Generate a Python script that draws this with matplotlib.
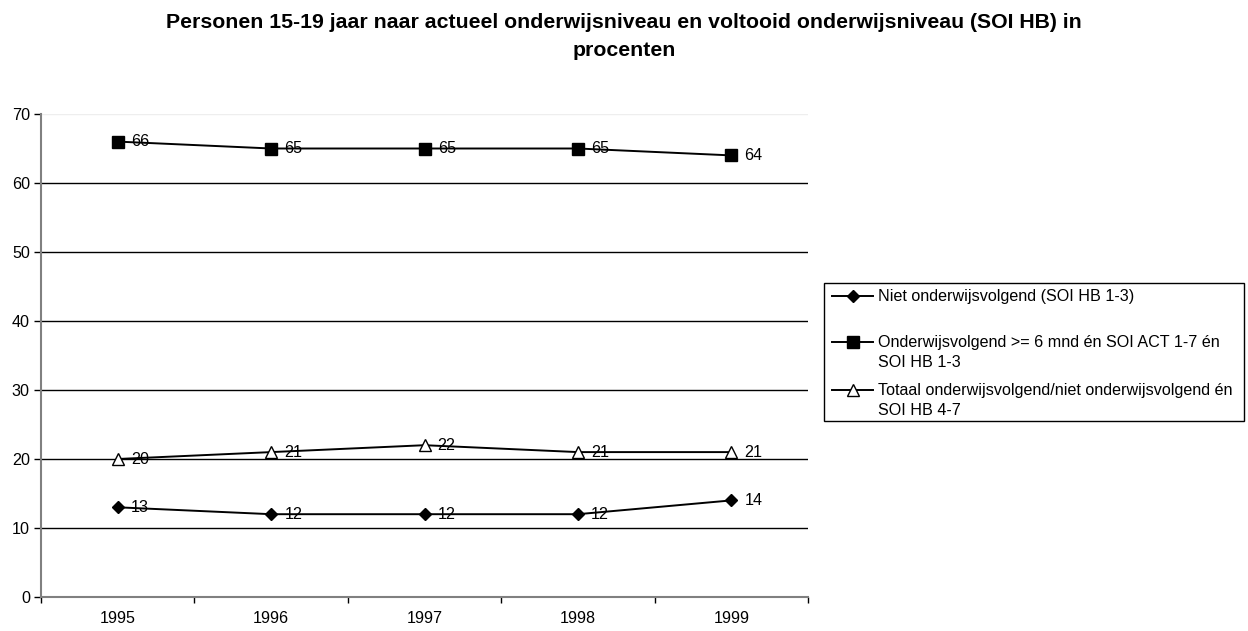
import matplotlib
matplotlib.use("Agg")
import matplotlib.pyplot as plt
from matplotlib.lines import Line2D
from matplotlib.patches import Rectangle

years = ["1995", "1996", "1997", "1998", "1999"]
niet = [13, 12, 12, 12, 14]
onderwijs = [66, 65, 65, 65, 64]
totaal = [20, 21, 22, 21, 21]
labels = [
    "Niet onderwijsvolgend (SOI HB 1-3)",
    "Onderwijsvolgend >= 6 mnd én SOI ACT 1-7 én\nSOI HB 1-3",
    "Totaal onderwijsvolgend/niet onderwijsvolgend én\nSOI HB 4-7",
]
title_lines = ["Personen 15-19 jaar naar actueel onderwijsniveau en voltooid onderwijsniveau (SOI HB) in",
               "procenten"]

plt.rcParams['font.family'] = ['Liberation Sans', 'DejaVu Sans']
FS = 11.6
W, H = 1248, 631

fig = plt.figure(figsize=(W / 100, H / 100), dpi=100)
ax = fig.add_axes([41 / W, 34 / H, 767 / W, 483 / H])

x = list(range(len(years)))
styles = [('D', 'black', 6.5), ('s', 'black', 8), ('^', 'white', 8)]
all_series = [niet, onderwijs, totaal]
for vals, (m, fc, ms) in zip(all_series, styles):
    ax.plot(x, vals, color='black', lw=1.4, marker=m, markersize=ms,
            markerfacecolor=fc, markeredgecolor='black', markeredgewidth=1.0,
            zorder=4)
    for xi, v in zip(x, vals):
        ax.annotate(str(v), (xi, v), xytext=(9.5, 0), textcoords='offset points',
                    va='center', ha='left', fontsize=FS, zorder=3)

ax.set_xlim(-0.5, len(years) - 0.5)
ax.set_ylim(0, 70)
ax.set_yticks(range(0, 71, 10))
ax.set_xticks(x)
ax.set_xticklabels(years)
ax.set_xticks([i + 0.5 for i in range(-1, len(years))], minor=True)
ax.tick_params(axis='x', which='major', length=0, pad=10, labelsize=FS)
ax.tick_params(axis='x', which='minor', length=4.5, width=1.0, direction='out', color='black')
ax.tick_params(axis='y', length=5, width=1.0, direction='out', labelsize=FS, pad=3)
for v in range(10, 70, 10):
    ax.axhline(v, color='black', lw=1.0, zorder=1)
ax.axhline(70, color='#eeeeee', lw=1.0, zorder=1)
for s in ['top', 'right']:
    ax.spines[s].set_visible(False)
for s in ['left', 'bottom']:
    ax.spines[s].set_color('#808080')
    ax.spines[s].set_linewidth(1.5)

# legend drawn by hand in pixel coordinates (top-aligned handles like the original)
def fx(px):
    return px / W

def fy(py):
    return 1 - py / H

fig.patches.append(Rectangle((fx(824), fy(421)), fx(1244) - fx(824), fy(283) - fy(421),
                             transform=fig.transFigure, fill=False, edgecolor='black',
                             lw=1.0, zorder=5))
entry_y = [296, 342, 390]
for (m, fc, ms), lab, yy in zip(styles, labels, entry_y):
    fig.add_artist(Line2D([fx(832), fx(873)], [fy(yy), fy(yy)], transform=fig.transFigure,
                          color='black', lw=1.4))
    fig.add_artist(Line2D([fx(852.5)], [fy(yy)], transform=fig.transFigure, color='black',
                          marker=m, markersize=ms, markerfacecolor=fc,
                          markeredgecolor='black', markeredgewidth=1.0, linestyle='none'))
    fig.text(fx(878), fy(yy - 7), lab, fontsize=FS, va='top', ha='left', linespacing=1.45)

fig.text(0.5, fy(22), title_lines[0], fontsize=15.3, fontweight='bold', ha='center', va='center')
fig.text(0.5, fy(51), title_lines[1], fontsize=15.3, fontweight='bold', ha='center', va='center')

fig.savefig("out.png", dpi=100)
